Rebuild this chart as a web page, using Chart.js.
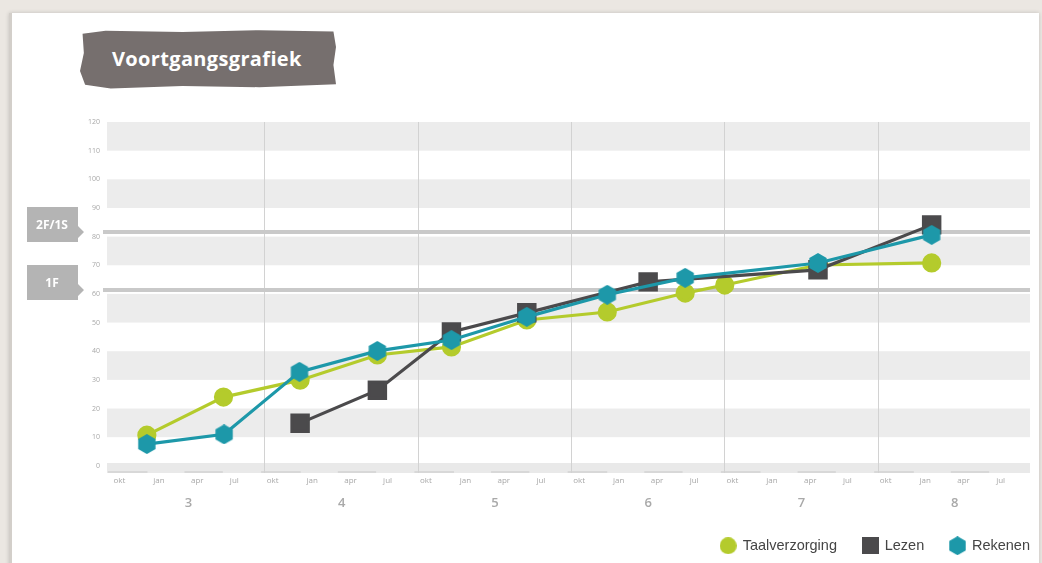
<!DOCTYPE html>
<html>
<head>
<meta charset="utf-8">
<script src="https://cdn.jsdelivr.net/npm/chart.js@4/dist/chart.umd.min.js"></script>
<style>
  html, body { margin: 0; padding: 0; }
  body { width: 1042px; height: 563px; background: #ebe7e2; position: relative; overflow: hidden; font-family: 'Open Sans', sans-serif; }
  .panel { position: absolute; left: 9px; top: 13px; width: 1027px; height: 560px; background: #fff;
           border-left: 3px solid #d3cfca; box-shadow: 0 0 4px rgba(0,0,0,.18); }
  .title { position: absolute; left: 80px; top: 29px; width: 256px; height: 60px; background: #766f6e;
           clip-path: polygon(1% 8%, 10% 3%, 40% 5%, 70% 2%, 99% 4%, 100% 30%, 99% 60%, 100% 92%, 70% 97%, 40% 95%, 12% 99%, 2% 93%, 0% 70%, 1.5% 40%);
           color: #fff; font-weight: 700; font-size: 20px; line-height: 60px; padding-left: 32px; box-sizing: border-box; letter-spacing: 0.35px; }
  /* canvas is a bit wider than the window so the legend can end at the plot's right edge */
  #wrap { position: absolute; left: 0; top: 0; width: 1056px; height: 563px; }
</style>
</head>
<body>
<div class="panel"></div>
<div class="title">Voortgangsgrafiek</div>
<div id="wrap"><canvas id="chart"></canvas></div>
<script>
// ── DATA ──────────────────────────────────────────────────────
const grades       = ['3', '4', '5', '6', '7', '8'];
const months       = ['okt', 'jan', 'apr', 'jul'];
const monthOffsets = [0.6, 3.7, 6.7, 9.6];          // months after start of school year
const yTicks       = [0, 10, 20, 30, 40, 50, 60, 70, 80, 90, 100, 110, 120];

const levelLabels  = ['1F', '2F/1S'];
const levelValues  = [61.5, 81.5];

const taalX  = [2.75, 8.75, 14.75, 20.8, 26.6, 32.5, 38.8, 44.9, 48.0, 55.3, 64.2];
const taalY  = [10.7, 24.0, 29.9, 38.7, 41.5, 50.9, 53.7, 60.3, 63.1, 70.1, 70.8];
const lezenX = [14.75, 20.8, 26.6, 32.5, 42.0, 55.3, 64.2];
const lezenY = [14.9, 26.4, 46.7, 53.4, 64.2, 68.4, 84.1];
const rekenX = [2.75, 8.8, 14.7, 20.8, 26.6, 32.5, 38.8, 44.9, 55.3, 64.2];
const rekenY = [7.6, 11.0, 32.8, 40.1, 43.9, 52.0, 59.7, 65.6, 70.8, 80.6];

const GREEN = '#b4cb2c', DARK = '#4b4a4c', TEAL = '#1d98a9';

// ── ICONS ─────────────────────────────────────────────────────
function icon(size, color, kind) {
  const c = document.createElement('canvas');
  c.width = c.height = size;
  const g = c.getContext('2d');
  g.fillStyle = color;
  g.beginPath();
  if (kind === 'hex') {
    for (let i = 0; i < 6; i++) {
      const a = Math.PI / 6 + i * Math.PI / 3;
      const px = size / 2 + Math.cos(a) * size / 2, py = size / 2 + Math.sin(a) * size / 2;
      i ? g.lineTo(px, py) : g.moveTo(px, py);
    }
  } else if (kind === 'rect') {
    g.rect(0, 0, size, size);
  } else {
    g.arc(size / 2, size / 2, size / 2, 0, Math.PI * 2);
  }
  g.closePath();
  g.fill();
  return c;
}
const hexPoint    = icon(20, TEAL, 'hex');
const legendIcons = [icon(17, GREEN, 'circle'), icon(17, DARK, 'rect'), icon(19, TEAL, 'hex')];

const pts = (xs, ys) => xs.map((x, i) => ({ x, y: ys[i] }));
const monthTicks = [];
grades.forEach((g, gi) => monthOffsets.forEach((o, mi) => monthTicks.push({ value: gi * 12 + o, m: mi })));

// ── BACKGROUND: bands, level lines, tags ──────────────────────
const bandsPlugin = {
  id: 'bands',
  beforeDraw(chart) {
    const { ctx, chartArea: a, scales: { y, x } } = chart;
    ctx.save();
    ctx.fillStyle = '#ececec';
    for (let v = 10; v < 120; v += 20) {
      const t = y.getPixelForValue(v + 10), b = y.getPixelForValue(v);
      ctx.fillRect(a.left, t, a.right - a.left, b - t);
    }
    // bottom strip
    const st = y.getPixelForValue(1), sb = y.getPixelForValue(-2.5);
    ctx.fillStyle = '#e9e9e9';
    ctx.fillRect(a.left, st, a.right - a.left, sb - st);
    ctx.fillStyle = '#d8d8d8';
    grades.forEach((g, gi) => {
      [[-0.3, 2.8], [5.7, 8.7]].forEach(([s, e]) => {
        const x0 = x.getPixelForValue(gi * 12 + s), x1 = x.getPixelForValue(gi * 12 + e);
        ctx.fillRect(x0, sb - 2, x1 - x0, 2);
      });
    });
    ctx.restore();
  },
  beforeDatasetsDraw(chart) {
    const { ctx, chartArea: a, scales: { y } } = chart;
    ctx.save();
    levelValues.forEach((v, i) => {
      const ly = Math.round(y.getPixelForValue(v));
      ctx.fillStyle = '#c9c9c9';
      ctx.fillRect(a.left - 4, ly - 2, a.right - a.left + 4, 4);
      // tag
      const top = ly - 25, bot = ly + 10;
      ctx.fillStyle = '#b4b4b4';
      ctx.beginPath();
      ctx.moveTo(27, top); ctx.lineTo(78, top); ctx.lineTo(78, ly - 6); ctx.lineTo(84, ly);
      ctx.lineTo(78, ly + 6); ctx.lineTo(78, bot); ctx.lineTo(27, bot);
      ctx.closePath(); ctx.fill();
      ctx.fillStyle = '#fff';
      ctx.font = 'bold 12px "Open Sans"';
      ctx.textAlign = 'center'; ctx.textBaseline = 'middle';
      ctx.fillText(levelLabels[i], 52, (top + bot) / 2 + 1);
    });
    ctx.restore();
  },
};

// ── CHART ─────────────────────────────────────────────────────
new Chart(document.getElementById('chart'), {
  type: 'line',
  data: {
    datasets: [
      { label: 'Taalverzorging', data: pts(taalX, taalY), borderColor: GREEN, backgroundColor: GREEN,
        borderWidth: 3.2, pointStyle: 'circle', pointRadius: 8, order: 3, xAxisID: 'x', yAxisID: 'y' },
      { label: 'Lezen', data: pts(lezenX, lezenY), borderColor: DARK, backgroundColor: DARK,
        borderWidth: 3.2, pointStyle: 'rect', pointRadius: 11.5, order: 2, xAxisID: 'x', yAxisID: 'y' },
      { label: 'Rekenen', data: pts(rekenX, rekenY), borderColor: TEAL, backgroundColor: TEAL,
        borderWidth: 3.2, pointStyle: hexPoint, pointRadius: 9, order: 1, xAxisID: 'x', yAxisID: 'y' },
    ],
  },
  options: {
    responsive: true, maintainAspectRatio: false, animation: false,
    layout: { padding: { top: 122, right: 0, left: 0, bottom: 0 } },
    plugins: {
      tooltip: { enabled: false },
      legend: {
        position: 'bottom', align: 'end',
        labels: {
          usePointStyle: true, color: '#454545', padding: 26,
          font: { family: 'Liberation Sans', size: 14.5 },
          sort: (a, b) => a.datasetIndex - b.datasetIndex,
          generateLabels: chart => Chart.defaults.plugins.legend.labels.generateLabels(chart)
            .map(l => ({ ...l, pointStyle: legendIcons[l.datasetIndex] })),
        },
      },
    },
    scales: {
      x: {
        type: 'linear', min: -0.37, max: 71.9,
        afterBuildTicks: s => { s.ticks = monthTicks.map(t => ({ value: t.value })); },
        afterFit: s => { s.height = 18; },
        ticks: {
          autoSkip: false, maxRotation: 0, padding: 3, color: '#a8a8a8',
          font: { family: 'Open Sans', size: 8 },
          callback: (v, i) => months[monthTicks[i].m],
        },
        grid: { display: false, drawTicks: false }, border: { display: false },
      },
      xg: {
        type: 'linear', position: 'bottom', min: -0.37, max: 71.9,
        afterBuildTicks: s => { s.ticks = grades.flatMap((g, i) => [{ value: i * 12 }, { value: i * 12 + 6 }]); },
        afterFit: s => { s.height = 21.5; },
        ticks: {
          autoSkip: false, maxRotation: 0, padding: 4, color: '#a9a9a9',
          font: { family: 'Open Sans', size: 13, weight: '600' },
          callback: v => (v % 12 === 6 ? grades[(v - 6) / 12] : ''),
        },
        grid: {
          drawTicks: false, lineWidth: 1,
          color: c => (c.tick && c.tick.value % 12 === 0 && c.tick.value > 0 ? '#d2d2d2' : 'rgba(0,0,0,0)'),
        },
        border: { display: false },
      },
      y: {
        min: -2.5, max: 120,
        afterBuildTicks: s => { s.ticks = yTicks.map(v => ({ value: v })); },
        afterFit: s => { s.width = 107; },
        ticks: { padding: 7, color: '#a8a8a8', font: { family: 'Open Sans', size: 7 } },
        grid: { display: false, drawTicks: false }, border: { display: false },
      },
      // empty spacer on the right so the plot ends at the panel edge
      yr: {
        position: 'right', min: 0, max: 1,
        afterFit: s => { s.width = 26; },
        ticks: { display: false }, grid: { display: false, drawTicks: false }, border: { display: false },
      },
    },
  },
  plugins: [bandsPlugin],
});
</script>
</body>
</html>
